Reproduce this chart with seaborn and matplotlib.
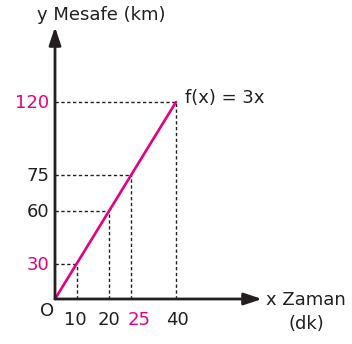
import numpy as np
import matplotlib
matplotlib.use("Agg")
import matplotlib.pyplot as plt
import seaborn as sns

# ---- data ----
x_points = [10, 20, 25, 40]          # Zaman (dk)
y_points = [30, 60, 75, 120]         # Mesafe (km) = 3x
x_line = [0, 10, 20, 25, 40]
y_line = [0, 30, 60, 75, 120]
x_tick_labels = ["10", "20", "25", "40"]
y_tick_labels = ["30", "60", "75", "120"]
x_label_colors = ["black", "black", "magenta", "black"]
y_label_colors = ["magenta", "black", "black", "magenta"]
func_label = "f(x) = 3x"
y_title = "y Mesafe (km)"
x_title = "x Zaman"
x_unit = "(dk)"

MAGENTA = "#e6007e"
INK = "#231f20"
cmap = {"magenta": MAGENTA, "black": INK}

sns.set_style("white")
plt.rcParams["font.family"] = ["DejaVu Sans"]
FS = 13

W, H = 352, 344
fig = plt.figure(figsize=(W / 100, H / 100), dpi=100)
ax = fig.add_axes([0, 0, 1, 1])

# schematic (non-uniform) axis spacing as in the drawing
T = np.array([-10, 0, 0.25, 0.5, 0.625, 1, 10])
G = np.array([-7.2, 0, 0.18, 0.446, 0.63, 1, 10])
XMAX = max(x_points)
YMAX = max(y_points)

def fx(v): return np.interp(np.asarray(v, float) / XMAX, T, G)
def ix(u): return XMAX * np.interp(np.asarray(u, float), G, T)
def fy(v): return np.interp(np.asarray(v, float) / YMAX, T, G)
def iy(u): return YMAX * np.interp(np.asarray(u, float), G, T)

ax.set_xscale("function", functions=(fx, ix))
ax.set_yscale("function", functions=(fy, iy))

ox, ux = 55, 121          # origin px, px per unit (x)
oy, uy = 45, 197          # origin px from bottom, px per unit (y)
ax.set_xlim(ix(-ox / ux), ix((W - ox) / ux))
ax.set_ylim(iy(-oy / uy), iy((H - oy) / uy))
for s in ax.spines.values():
    s.set_visible(False)
ax.set_xticks([])
ax.set_yticks([])

# guide lines
dash = (0, (2.4, 1.8))
ax.hlines(y_points, 0, x_points, colors=INK, lw=1.0, linestyles=dash, zorder=2)
ax.vlines(x_points, 0, y_points, colors=INK, lw=1.0, linestyles=dash, zorder=2)

# function line
sns.lineplot(x=x_line, y=y_line, ax=ax, color=MAGENTA, lw=1.9, zorder=4, sort=False)

# axes arrows
x_tip = ix((262 - ox) / ux)
y_tip = iy((317 - oy) / uy)
ap = dict(arrowstyle="-|>,head_length=0.9,head_width=0.3", lw=2.0, color=INK,
          shrinkA=0, shrinkB=0, mutation_scale=12)
ax.annotate("", xy=(x_tip, 0), xytext=(0, 0), arrowprops=ap, zorder=5)
ax.annotate("", xy=(0, y_tip), xytext=(0, 0), arrowprops=ap, zorder=5)

# tick labels
x_dx = [-1, 0, 8, 1]
for xv, lab, c, dx in zip(x_points, x_tick_labels, x_label_colors, x_dx):
    ax.annotate(lab, xy=(xv, 0), xytext=(dx, -26), textcoords="offset pixels",
                ha="center", va="baseline", fontsize=FS, color=cmap[c])
for yv, lab, c in zip(y_points, y_tick_labels, y_label_colors):
    ax.annotate(lab, xy=(0, yv), xytext=(-6, -6), textcoords="offset pixels",
                ha="right", va="baseline", fontsize=FS, color=cmap[c])

ax.annotate("O", xy=(0, 0), xytext=(-8, -12.5), textcoords="offset pixels",
            ha="center", va="center", fontsize=FS, color=INK)
ax.annotate(func_label, xy=(x_points[-1], y_points[-1]), xytext=(9, -1),
            textcoords="offset pixels", ha="left", va="baseline", fontsize=FS, color=INK)

ax.text(101 / W, 1 - 19.5 / H, y_title, transform=ax.transAxes, ha="center",
        va="baseline", fontsize=FS, color=INK)
ax.text(266 / W, 1 - 305 / H, x_title, transform=ax.transAxes, ha="left",
        va="baseline", fontsize=FS, color=INK)
ax.text(306 / W, 1 - 329 / H, x_unit, transform=ax.transAxes, ha="center",
        va="baseline", fontsize=FS, color=INK)

fig.savefig("out.png", dpi=100)
